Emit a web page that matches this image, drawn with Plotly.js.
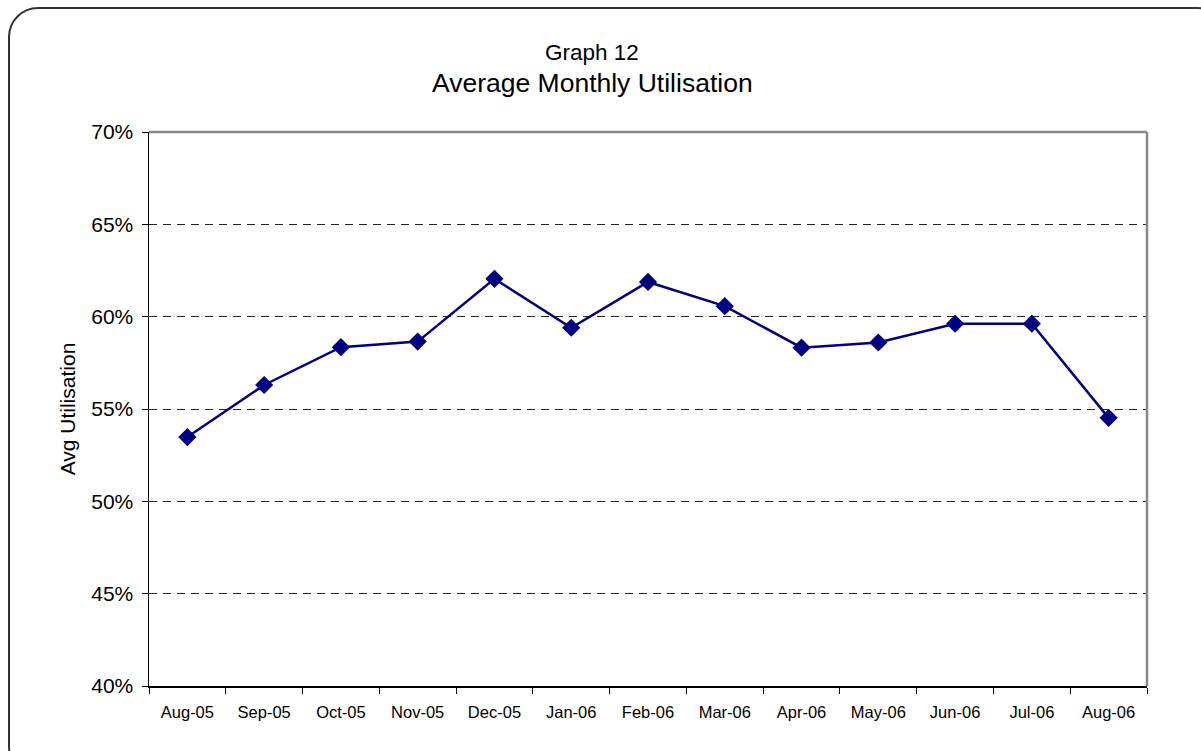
<!DOCTYPE html>
<html>
<head>
<meta charset="utf-8">
<script src="https://cdn.plot.ly/plotly-3.0.1.min.js"></script>
<style>
  html, body { margin: 0; padding: 0; background: #fff; overflow: hidden; }
  #frame { position: absolute; left: 8px; top: 7px; width: 1220px; height: 770px;
           border: 2px solid #333; border-radius: 30px; box-sizing: border-box; pointer-events: none; }
  #chart { position: absolute; left: 0; top: 0; width: 1201px; height: 751px; }
</style>
</head>
<body>
<div id="chart"></div>
<div id="frame"></div>
<script>
const months = ["Aug-05","Sep-05","Oct-05","Nov-05","Dec-05","Jan-06","Feb-06","Mar-06","Apr-06","May-06","Jun-06","Jul-06","Aug-06"];
const utilisation = [0.5348, 0.5630, 0.5835, 0.5865, 0.6205, 0.5940, 0.6188, 0.6057, 0.5832, 0.5860, 0.5962, 0.5962, 0.5452];
const yTicks = [0.40, 0.45, 0.50, 0.55, 0.60, 0.65, 0.70];
const yTickText = ["40%", "45%", "50%", "55%", "60%", "65%", "70%"];
const FONT = "Liberation Sans";

const trace = {
  type: "scatter",
  mode: "lines+markers",
  x: months,
  y: utilisation,
  line: { color: "#000080", width: 2.5 },
  marker: { symbol: "diamond", size: 14, color: "#000080" },
  hoverinfo: "x+y"
};

const layout = {
  width: 1201, height: 751,
  paper_bgcolor: "rgba(0,0,0,0)",
  plot_bgcolor: "#fff",
  margin: { l: 149, r: 54, t: 132, b: 65 },
  showlegend: false,
  font: { family: FONT, size: 17, color: "#000" },
  title: { text: "" },
  annotations: [
    { text: "Graph 12", xref: "paper", yref: "paper", x: 0.4442, y: 1.143,
      xanchor: "center", yanchor: "middle", showarrow: false,
      font: { family: FONT, size: 22.5, color: "#000" } },
    { text: "Average Monthly Utilisation", xref: "paper", yref: "paper", x: 0.4442, y: 1.088,
      xanchor: "center", yanchor: "middle", showarrow: false,
      font: { family: FONT, size: 26.5, color: "#000" } }
  ],
  xaxis: {
    type: "category",
    range: [-0.5, 12.5],
    tickson: "boundaries",
    ticks: "outside", ticklen: 6, tickwidth: 1, tickcolor: "#000",
    ticklabelstandoff: 11,
    showline: true, linecolor: "#000", linewidth: 1.5,
    showgrid: false, zeroline: false,
    tickfont: { family: FONT, size: 16.5, color: "#000" },
    fixedrange: true
  },
  yaxis: {
    range: [0.40, 0.70],
    tickvals: yTicks,
    ticktext: yTickText,
    ticks: "outside", ticklen: 6, tickwidth: 1, tickcolor: "#000",
    ticklabelstandoff: 4,
    showline: true, linecolor: "#000", linewidth: 1.5,
    showgrid: true, gridcolor: "#222", gridwidth: 1, griddash: "8px,6px",
    zeroline: false,
    tickfont: { family: FONT, size: 21, color: "#000" },
    title: { text: "Avg Utilisation", font: { family: FONT, size: 21, color: "#000" }, standoff: 10 },
    fixedrange: true
  },
  shapes: [
    { type: "line", xref: "paper", yref: "paper", x0: 0, x1: 1, y0: 1, y1: 1,
      line: { color: "#888", width: 2.5 }, layer: "above" },
    { type: "line", xref: "paper", yref: "paper", x0: 1, x1: 1, y0: 0, y1: 1,
      line: { color: "#888", width: 2.5 }, layer: "above" }
  ]
};

Plotly.newPlot("chart", [trace], layout, { displayModeBar: false, staticPlot: true });
</script>
</body>
</html>
